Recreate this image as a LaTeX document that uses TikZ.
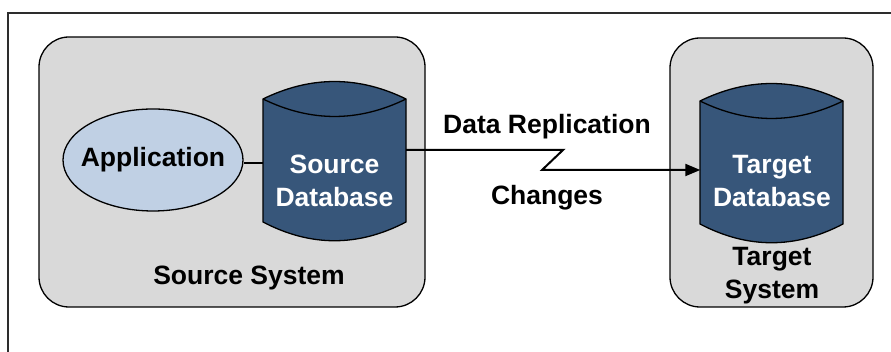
\documentclass[tikz,border=0pt]{standalone}
\usepackage{fontspec}
\setmainfont{Liberation Sans}
\usetikzlibrary{shapes.geometric,arrows.meta,calc}

\definecolor{panelgray}{RGB}{217,217,217}
\definecolor{dbblue}{RGB}{55,86,122}
\definecolor{appblue}{RGB}{192,208,228}
\definecolor{framegray}{RGB}{45,45,45}

\tikzset{
  x=1pt, y=1pt,
  sysbox/.style={draw=black, line width=1.3pt, fill=panelgray, rounded corners=30pt,
    inner sep=0pt},
  applabel/.style={ellipse, draw=black, line width=1.3pt, fill=appblue,
    minimum width=180pt, minimum height=102pt, inner xsep=-9.5pt, inner ysep=0pt,
    font=\fontsize{26.5}{33}\selectfont\bfseries},
  dblabel/.style={rectangle, inner sep=0pt, minimum width=143pt, minimum height=70pt,
    align=center, text=white, font=\fontsize{26.5}{33}\selectfont\bfseries},
  caption/.style={align=center, inner sep=0pt, font=\fontsize{26.5}{33}\selectfont\bfseries},
  link/.style={draw=black, line width=1.8pt},
  flow/.style={draw=black, line width=2pt, -{Triangle[length=15pt,width=12pt]}},
  % drum: straight sides, curved lid and base meeting the sides at sharp corners
  drum/.pic={
    \path[fill=dbblue, draw=black, line width=1.3pt]
      (-71.5,61.5) -- (-71.5,-61.5)
      .. controls (-23.8,-61.5-25) and (23.8,-61.5-25) .. (71.5,-61.5)
      -- (71.5,61.5)
      .. controls (23.8,61.5+23.3) and (-23.8,61.5+23.3) .. (-71.5,61.5) -- cycle;
    \draw[black, line width=1.3pt] (-71.5,61.5)
      .. controls (-23.8,61.5-23.3) and (23.8,61.5-23.3) .. (71.5,61.5);
  }
}

\begin{document}
\begin{tikzpicture}
  \useasboundingbox (0,0) rectangle (891,352);

  % outer frame (runs off the right and bottom edges)
  \draw[framegray, line width=2pt] (8,0) -- (8,339) -- (891,339);

  % system panels
  \node[sysbox, minimum width=386pt, minimum height=270pt] (srcsys) at (232,180) {};
  \node[sysbox, minimum width=203pt, minimum height=269pt] (tgtsys) at (771.5,179.5) {};

  % database drums
  \pic at (334.5,191.5) {drum};
  \pic at (771.5,189.5) {drum};

  % labels and shapes
  \node[applabel] (app) at (153,192) {Application};
  \node[dblabel] (srcdb) at (334.5,171.5) {Source\\Database};
  \node[dblabel] (tgtdb) at (772,171) {Target\\Database};
  \node[caption] (srccap) at (249,74) {Source System};
  \node[caption] (tgtcap) at (772,76) {Target\\System};
  \node[caption] (replab) at (547,225) {Data Replication};
  \node[caption] (chglab) at (547,154) {Changes};

  % application to source database
  \coordinate (appport) at ($(app.east)+(0,-3)$);
  \draw[link] (appport) -- (appport -| srcdb.west);

  % replication link with a zigzag
  \coordinate (zigA) at (563,202);
  \coordinate (zigB) at (542,182);
  \draw[flow] (srcdb.east |- zigA) -- (zigA) -- (zigB) -- (zigB -| tgtdb.west);
\end{tikzpicture}
\end{document}
